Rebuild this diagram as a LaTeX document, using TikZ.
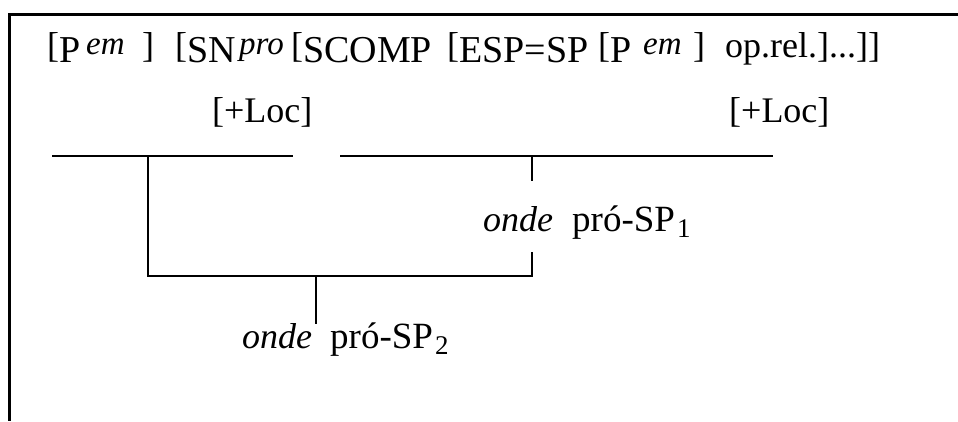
\documentclass[tikz,border=0pt]{standalone}
\usepackage{fontspec}
\setmainfont{Liberation Serif}
\begin{document}
\begin{tikzpicture}[x=1pt,y=-1pt,
  txt/.style={inner sep=0pt, anchor=base west, font=\fontsize{36}{40}\selectfont},
  big/.style={inner sep=0pt, anchor=base west, font=\fontsize{37}{40}\selectfont},
  lbl/.style={inner sep=0pt, anchor=base west, font=\fontsize{38}{44}\selectfont},
  itl/.style={inner sep=0pt, anchor=base west, font=\fontsize{33}{36}\selectfont\itshape},
  itb/.style={inner sep=0pt, anchor=base west, font=\fontsize{36}{40}\selectfont\itshape},
  frame/.style={line width=3pt, line join=miter},
  branch/.style={line width=1.8pt, line join=miter}]
\newcommand{\subidx}[1]{\hspace{2pt}\raisebox{-6pt}{\fontsize{27}{28}\selectfont #1}}
\useasboundingbox (0,0) rectangle (958,421);
% frame
\coordinate (fTR) at (958,14);
\coordinate (fTL) at (9.5,14);
\coordinate (fBL) at (9.5,421);
\draw[frame] (fTR) -- (fTL) -- (fBL);
% line 1
\node[txt] (b1) at (47,57) {[};
\node[lbl] (p1) at (59,62) {P};
\node[itl] (em1) at (86,54) {em};
\node[txt] (c1) at (142,57) {]};
\node[txt] (b2) at (175,57) {[};
\node[lbl] (sn) at (187,62) {SN};
\node[itl] (pro) at (239,54) {pro};
\node[txt] (b3) at (291,57) {[};
\node[lbl] (scomp) at (303,62) {SCOMP};
\node[txt] (b4) at (447,57) {[};
\node[lbl] (esp) at (459,62) {ESP=SP};
\node[txt] (b5) at (598,57) {[};
\node[lbl] (p2) at (610,62) {P};
\node[itl] (em2) at (643,54) {em};
\node[txt] (c2) at (693,57) {]};
\node[txt] (oprel) at (725,57) {op.rel.]...]]};
% feature labels
\node[txt] (loc1) at (212,122.5) {[+Loc]};
\node[txt] (loc2) at (729,122.5) {[+Loc]};
% lower labels
\node[itb] (onde1) at (483,231) {onde};
\node[big] (pro1) at (572,231) {pró-SP\subidx{1}};
\node[itb] (onde2) at (242,348) {onde};
\node[big] (pro2) at (330,348) {pró-SP\subidx{2}};
% branch coordinates
\coordinate (L1a) at (52,156);
\coordinate (L1b) at (293,156);
\coordinate (R1a) at (340,156);
\coordinate (R1b) at (773,156);
\coordinate (J1) at (148,156);
\coordinate (J1b) at (148,276);
\coordinate (J2) at (532,156);
\coordinate (J2a) at (532,181);
\coordinate (J2c) at (532,252);
\coordinate (J2b) at (532,276);
\coordinate (M) at (316,276);
\coordinate (Mb) at (316,324);
\draw[branch] (L1a) -- (L1b);
\draw[branch] (R1a) -- (R1b);
\draw[branch] (J1) -- (J1b) -- (J2b) -- (J2c);
\draw[branch] (J2) -- (J2a);
\draw[branch] (M) -- (Mb);
\end{tikzpicture}
\end{document}
